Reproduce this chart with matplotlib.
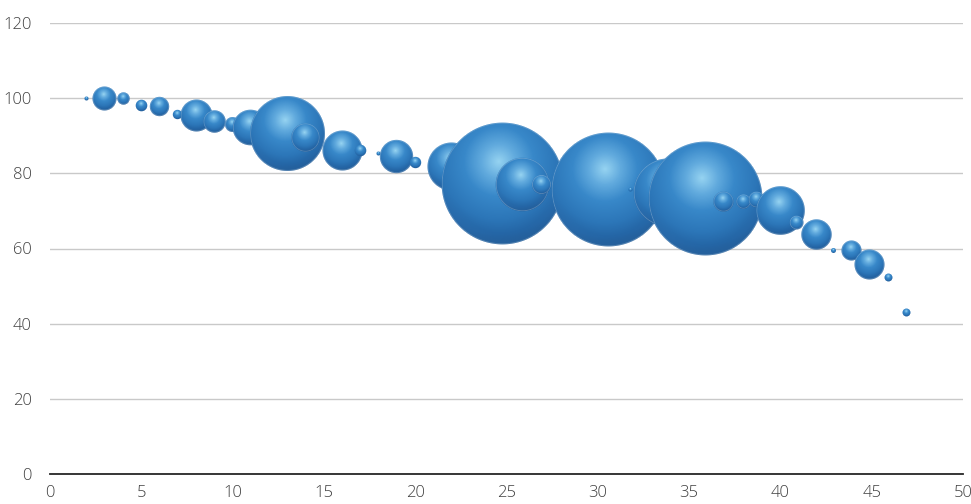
import numpy as np
import matplotlib
matplotlib.use("Agg")
import matplotlib.pyplot as plt
from matplotlib.offsetbox import OffsetImage, AnnotationBbox
from matplotlib.colors import LinearSegmentedColormap

# bubble data (x, y, bubble size ~ area)
xvals = [2, 3, 4, 5, 6, 7, 8, 9, 10, 11, 13, 14, 16, 17, 18, 19, 20, 22,
         24.8, 25.9, 26.9, 30.6, 31.8, 33.8, 35.9, 36.9, 38, 38.7, 40, 40.9, 42, 42.9, 43.9, 44.9, 45.9, 46.9]
yvals = [99.8, 100.0, 99.8, 98.1, 97.7, 95.7, 95.3, 93.7, 92.9, 92.3, 90.6, 89.6,
         86.1, 86.0, 85.2, 84.4, 83.0, 81.8, 77.2, 77.0, 76.9, 75.6, 75.6, 75.0,
         73.2, 72.5, 72.5, 73.0, 70.0, 66.8, 63.8, 59.4, 59.4, 55.7, 52.3, 42.9]
sizes = [0.11, 4.0, 1.07, 0.93, 2.6, 0.61, 7.1, 3.5, 1.56, 8.8, 39.0, 5.7,
         11.1, 0.93, 0.11, 7.7, 0.9, 16.0, 103.0, 20.0, 2.6, 90.0, 0.11, 32.0,
         90.0, 2.9, 1.5, 1.8, 16.4, 1.36, 6.4, 0.17, 2.8, 6.25, 0.44, 0.44]

xticks = [0, 5, 10, 15, 20, 25, 30, 35, 40, 45, 50]
yticks = [0, 20, 40, 60, 80, 100, 120]

PX_PER_SQRT = 6.0  # bubble radius in pixels per sqrt(size)

sphere_cmap = LinearSegmentedColormap.from_list(
    "sphere",
    [(0.0, "#96d3f1"), (0.2, "#62abde"), (0.42, "#3888c9"),
     (0.7, "#2c76b8"), (0.88, "#2465a5"), (1.0, "#1c538c")])


def sphere(r):
    n = int(np.ceil(r)) * 2 + 3
    c = (n - 1) / 2.0
    yy, xx = np.mgrid[0:n, 0:n]
    u = (xx - c) / r
    v = (yy - c) / r
    d = np.sqrt(u**2 + v**2)
    dh = np.sqrt((u + 0.06)**2 + (v + 0.36)**2) / 1.36
    col = sphere_cmap(np.clip(dh, 0, 1))
    # faint lighter reflection along the bottom rim
    rim = np.clip((d - 0.82) / 0.18, 0, 1) * np.clip(v, 0, 1) * 0.3
    col[..., :3] = col[..., :3] * (1 - rim[..., None]) + np.array([0.25, 0.52, 0.78]) * rim[..., None]
    # thin pale outline, shows where bubbles overlap
    edge = np.clip(1 - np.abs((1 - d) * r - 0.6) / 0.9, 0, 1) * 0.3 * (r > 6)
    col[..., :3] = col[..., :3] * (1 - edge[..., None]) + np.array([0.75, 0.82, 0.88]) * edge[..., None]
    col[..., 3] = np.clip((1 - d) * r + 0.5, 0, 1)
    return col


fig = plt.figure(figsize=(9.71, 5.04), dpi=100)
ax = fig.add_axes([50/971, 1-474/504, 913/971, 451/504])

ax.set_xlim(0, 50)
ax.set_ylim(0, 120)
ax.set_xticks(xticks)
ax.set_yticks(yticks)
ax.yaxis.grid(True, color="#c9c9c9", linewidth=1.0)
ax.set_axisbelow(True)
for s in ["top", "right", "left"]:
    ax.spines[s].set_visible(False)
ax.spines["bottom"].set_color("#262626")
ax.spines["bottom"].set_linewidth(1.3)
ax.tick_params(axis="both", length=0, labelsize=12, labelcolor="#404040")
ax.tick_params(axis="y", pad=13)
ax.tick_params(axis="x", pad=8)
for lab in ax.get_xticklabels() + ax.get_yticklabels():
    lab.set_fontfamily("Open Sans")
    lab.set_fontweight("light")

for i, (x, y, s) in enumerate(zip(xvals, yvals, sizes)):
    r = PX_PER_SQRT * np.sqrt(s)
    img = OffsetImage(sphere(max(r, 1.5)), zoom=1, dpi_cor=False)
    ab = AnnotationBbox(img, (x, y), xycoords="data", frameon=False, pad=0,
                        box_alignment=(0.5, 0.5), zorder=3 + i)
    ax.add_artist(ab)

fig.savefig("out.png", dpi=100)
